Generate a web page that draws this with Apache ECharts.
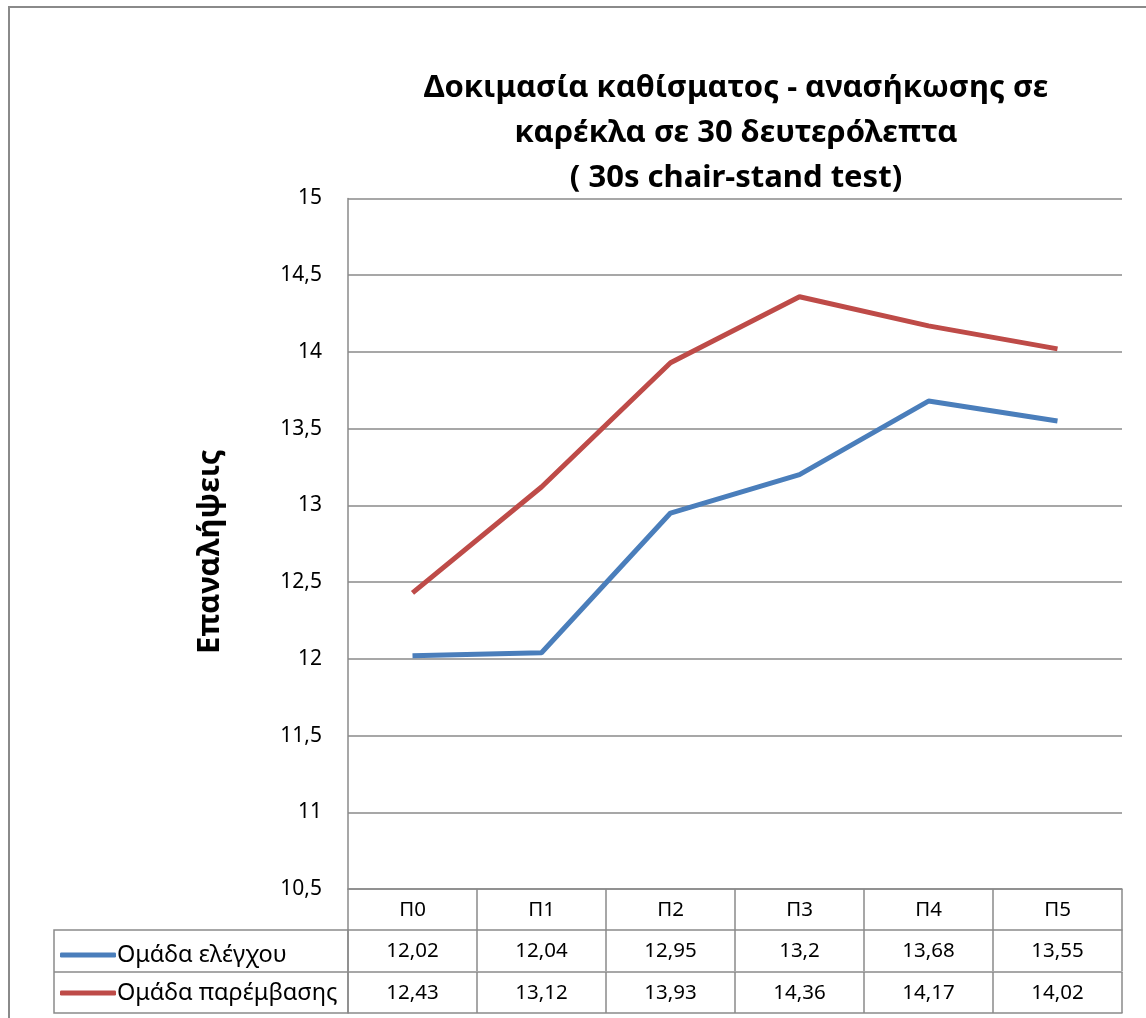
<!DOCTYPE html>
<html><head><meta charset="utf-8">
<script src="https://cdn.jsdelivr.net/npm/echarts@6/dist/echarts.min.js"></script>
<style>html,body{margin:0;padding:0;background:#fff}#c{width:1146px;height:1018px}</style>
</head><body><div id="c"></div>
<script>
const categories = ['Π0','Π1','Π2','Π3','Π4','Π5'];
const controlName = 'Ομάδα ελέγχου';
const interventionName = 'Ομάδα παρέμβασης';
const controlValues = [12.02, 12.04, 12.95, 13.2, 13.68, 13.55];
const interventionValues = [12.43, 13.12, 13.93, 14.36, 14.17, 14.02];
const yTicks = {min: 10.5, max: 15, interval: 0.5};
const titleText = 'Δοκιμασία καθίσματος - ανασήκωσης σε\nκαρέκλα σε 30 δευτερόλεπτα\n( 30s chair-stand test)';
const yName = 'Επαναλήψεις';

const FONT = 'Noto Sans';
const GRID = '#8a8a8a';
const BLUE = '#4a7ebb';
const RED = '#be4b48';
const fmt = v => String(v).replace('.', ',');

const chart = echarts.init(document.getElementById('c'), null, {renderer: 'canvas'});

function tableAxis(offset, labels, showLabels) {
  return {
    type: 'category', data: categories, position: 'bottom', offset: offset,
    boundaryGap: true,
    axisLine: {show: true, lineStyle: {color: GRID, width: 1.5}},
    axisTick: {show: showLabels, length: 41, lineStyle: {color: GRID, width: 1.5}},
    axisLabel: {show: showLabels, margin: 11, color: '#000', fontFamily: FONT, fontSize: 20.5,
      formatter: (v, i) => labels ? fmt(labels[i]) : v},
    splitLine: {show: false}
  };
}

chart.setOption({
  animation: false,
  backgroundColor: '#fff',
  title: {
    text: titleText, left: 731, top: 61, textAlign: 'center',
    textStyle: {fontFamily: FONT, fontWeight: 'bold', fontSize: 31, color: '#000', lineHeight: 45}
  },
  grid: {left: 348, right: 24, top: 198.5, bottom: 129, containLabel: false},
  legend: {
    orient: 'vertical', left: 55, top: 938, itemGap: 14, itemWidth: 56, itemHeight: 5,
    icon: 'roundRect',
    data: [controlName, interventionName],
    textStyle: {fontFamily: FONT, fontSize: 23.5, color: '#000', padding: [0,0,0,-4]}
  },
  xAxis: [
    tableAxis(0, null, true),
    tableAxis(41, controlValues, true),
    tableAxis(83, interventionValues, true),
    tableAxis(124, null, false)
  ],
  yAxis: {
    type: 'value', min: yTicks.min, max: yTicks.max, interval: yTicks.interval,
    name: yName, nameLocation: 'middle', nameGap: 122, nameRotate: 90,
    nameTextStyle: {fontFamily: FONT, fontWeight: 'bold', fontSize: 31, color: '#000', padding: [0, 16, 0, 0]},
    axisLine: {show: true, lineStyle: {color: GRID, width: 1.5}},
    axisTick: {show: false},
    axisLabel: {margin: 26, color: '#000', fontFamily: FONT, fontSize: 21, formatter: fmt},
    splitLine: {lineStyle: {color: GRID, width: 1.5}}
  },
  series: [
    {name: controlName, type: 'line', data: controlValues, symbol: 'none',
     lineStyle: {color: BLUE, width: 5}, itemStyle: {color: BLUE}},
    {name: interventionName, type: 'line', data: interventionValues, symbol: 'none',
     lineStyle: {color: RED, width: 5}, itemStyle: {color: RED}}
  ],
  graphic: [
    {type: 'rect', shape: {x: 9, y: 7, width: 1200, height: 1100}, silent: true,
     style: {fill: null, stroke: '#8a8a8a', lineWidth: 2}},
    {type: 'rect', shape: {x: 54, y: 930, width: 294, height: 83}, silent: true,
     style: {fill: null, stroke: GRID, lineWidth: 1.5}},
    {type: 'line', shape: {x1: 54, y1: 972, x2: 348, y2: 972}, silent: true,
     style: {stroke: GRID, lineWidth: 1.5}}
  ]
});
</script></body></html>
